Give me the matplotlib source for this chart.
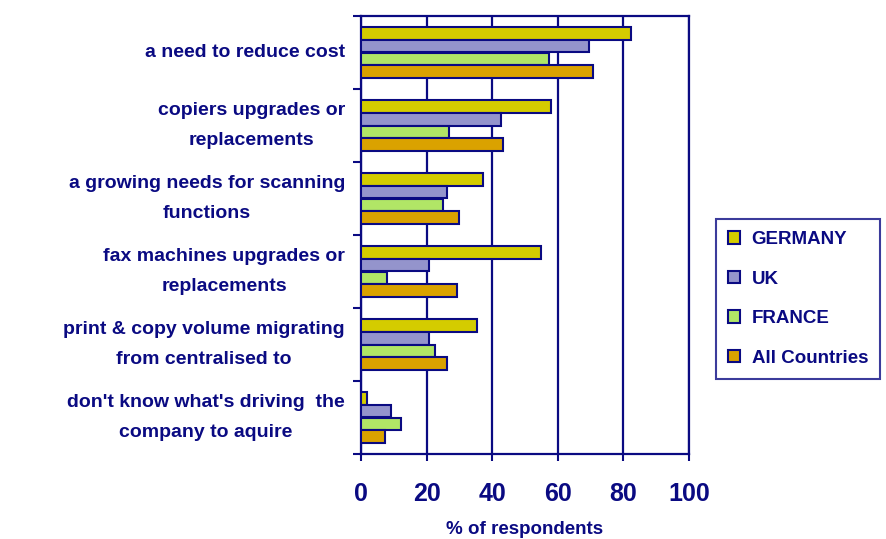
import numpy as np
from matplotlib import pyplot as plt

# categories, top to bottom
categories = ["a need to reduce cost",
              "copiers upgrades or\nreplacements",
              "a growing needs for scanning\nfunctions",
              "fax machines upgrades or\nreplacements",
              "print & copy volume migrating\nfrom centralised to",
              "don't know what's driving  the\ncompany to aquire"]

series_names = ["GERMANY", "UK", "FRANCE", "All Countries"]
germany = [82.3, 58.0, 37.2, 54.9, 35.4, 1.8]
uk = [69.5, 42.7, 26.2, 20.7, 20.7, 9.1]
france = [57.2, 26.7, 24.9, 7.9, 22.6, 12.2]
all_countries = [70.7, 43.3, 29.9, 29.3, 26.2, 7.3]

xticks = [0, 20, 40, 60, 80, 100]

colors = ["#D4CC00", "#9494CC", "#B1E666", "#DAA200"]
navy = "#0A0A82"

plt.rcParams["font.family"] = ["Liberation Sans", "DejaVu Sans"]
plt.rcParams["font.weight"] = "bold"

fig = plt.figure(figsize=(8.87, 5.39), dpi=100)
ax = fig.add_axes([361 / 887, 85 / 539, 328 / 887, 438 / 539])

y = np.arange(len(categories))
h = 0.178
for i, (name, vals) in enumerate(zip(series_names, [germany, uk, france, all_countries])):
    ax.barh(y + (i - 1.5) * h, vals, height=h, color=colors[i],
            edgecolor=navy, linewidth=1.5, label=name, zorder=3)

ax.set_xlim(0, 100)
ax.set_ylim(len(categories) - 0.5, -0.5)

ax.set_xticks(xticks)
ax.set_xticklabels([str(t) for t in xticks], fontsize=18, fontweight="bold", color=navy)
ax.tick_params(axis="x", direction="out", length=5, width=1.5, color=navy, pad=15)

# boundaries as major ticks, labels at centres as minor ticks
ax.set_yticks(np.arange(len(categories) + 1) - 0.5)
ax.set_yticklabels([])
ax.tick_params(axis="y", which="major", direction="out", length=6, width=1.5, color=navy)
ax.set_yticks(y, minor=True)
ax.set_yticklabels(categories, minor=True, fontsize=14, fontweight="bold",
                   color=navy, linespacing=1.95, multialignment="center", va="center")
ax.tick_params(axis="y", which="minor", length=0, pad=11.5)

ax.grid(axis="x", color=navy, linewidth=1.6, zorder=0)
ax.set_axisbelow(True)
for s in ax.spines.values():
    s.set_color(navy)
    s.set_linewidth(1.6)

# axis title sits at the very bottom edge
fig.text(525 / 887, 5 / 539, "% of respondents", ha="center", va="baseline",
         fontsize=13.5, fontweight="bold", color=navy)

leg = fig.legend(loc="upper left", bbox_to_anchor=(716 / 887, 1 - 219 / 539),
                 borderaxespad=0, frameon=True, fancybox=False,
                 handlelength=0.65, handleheight=0.65, handletextpad=0.6,
                 labelspacing=1.2, borderpad=0.65,
                 prop={"size": 13.5, "weight": "bold"})
leg.get_frame().set_edgecolor(navy)
leg.get_frame().set_linewidth(1.5)
for t in leg.get_texts():
    t.set_color(navy)

fig.savefig("out.png", dpi=100)
